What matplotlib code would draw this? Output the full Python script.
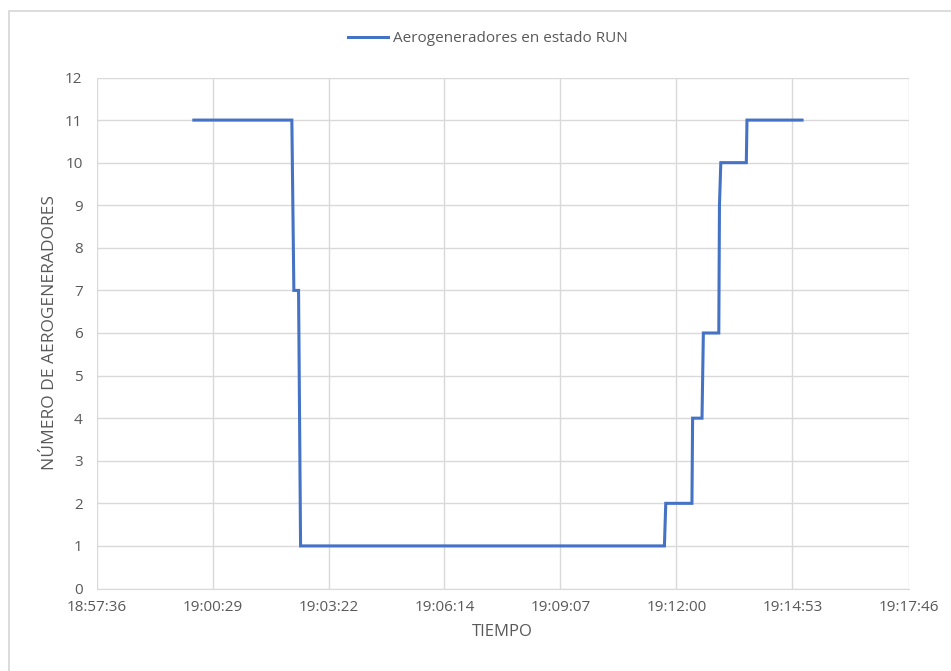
import matplotlib.pyplot as plt
from matplotlib.patches import Rectangle

# datos (hora, aerogeneradores en RUN)
horas = ["19:00:01", "19:02:27", "19:02:30", "19:02:37", "19:02:40",
         "19:11:42", "19:11:44", "19:12:23", "19:12:24", "19:12:38",
         "19:12:39", "19:12:40", "19:13:03", "19:13:04", "19:13:06",
         "19:13:44", "19:13:45", "19:15:07"]
aerogeneradores = [11, 11, 7, 7, 1,
                   1, 2, 2, 4, 4,
                   5, 6, 6, 9, 10,
                   10, 11, 11]

x_min, paso, n_ticks = "18:57:36", 172.8, 8
y_ticks = list(range(0, 13))


def a_segundos(h):
    hh, mm, ss = [int(v) for v in h.split(":")]
    return hh * 3600 + mm * 60 + ss


def a_hora(s):
    s = int(round(s))
    return "%d:%02d:%02d" % (s // 3600, (s % 3600) // 60, s % 60)


gris = "#595959"
plt.rcParams['font.family'] = ['Open Sans', 'DejaVu Sans']

fig = plt.figure(figsize=(9.51, 6.71), dpi=100)
ax = fig.add_axes([96.5 / 951, 1 - 588.5 / 671, 812 / 951, 511 / 671])

xs = [a_segundos(h) for h in horas]
ax.plot(xs, aerogeneradores, color="#4472C4", lw=2.2, label="Aerogeneradores en estado RUN",
        solid_joinstyle="miter")

inicio = a_segundos(x_min)
ticks = [inicio + k * paso for k in range(n_ticks)]
ax.set_xticks(ticks)
ax.set_xticklabels([a_hora(t) for t in ticks])
ax.set_xlim(ticks[0], ticks[-1])
ax.set_ylim(0, 12)
ax.set_yticks(y_ticks)

ax.grid(True, color="#D9D9D9", lw=1)
ax.set_axisbelow(True)
for s in ax.spines.values():
    s.set_visible(False)
ax.spines['bottom'].set_visible(True)
ax.spines['bottom'].set_color("#D9D9D9")
ax.tick_params(length=0, colors=gris, labelsize=11, pad=8)
ax.tick_params(axis='y', pad=10)

ax.set_xlabel("TIEMPO", color=gris, fontsize=12, labelpad=7)
ax.set_ylabel("NÚMERO DE AEROGENERADORES", color=gris, fontsize=12.5, labelpad=5)

ax.legend(loc="lower center", bbox_to_anchor=(0.482, 1.035), frameon=False,
          fontsize=11, labelcolor=gris, handlelength=2.6, handletextpad=0.3)

fig.patches.append(Rectangle((9 / 951, -0.1), 1.1, 1 - 11 / 671 + 0.1, transform=fig.transFigure,
                             fill=False, edgecolor="#D9D9D9", lw=1.3))

fig.savefig("out.png", dpi=100)
